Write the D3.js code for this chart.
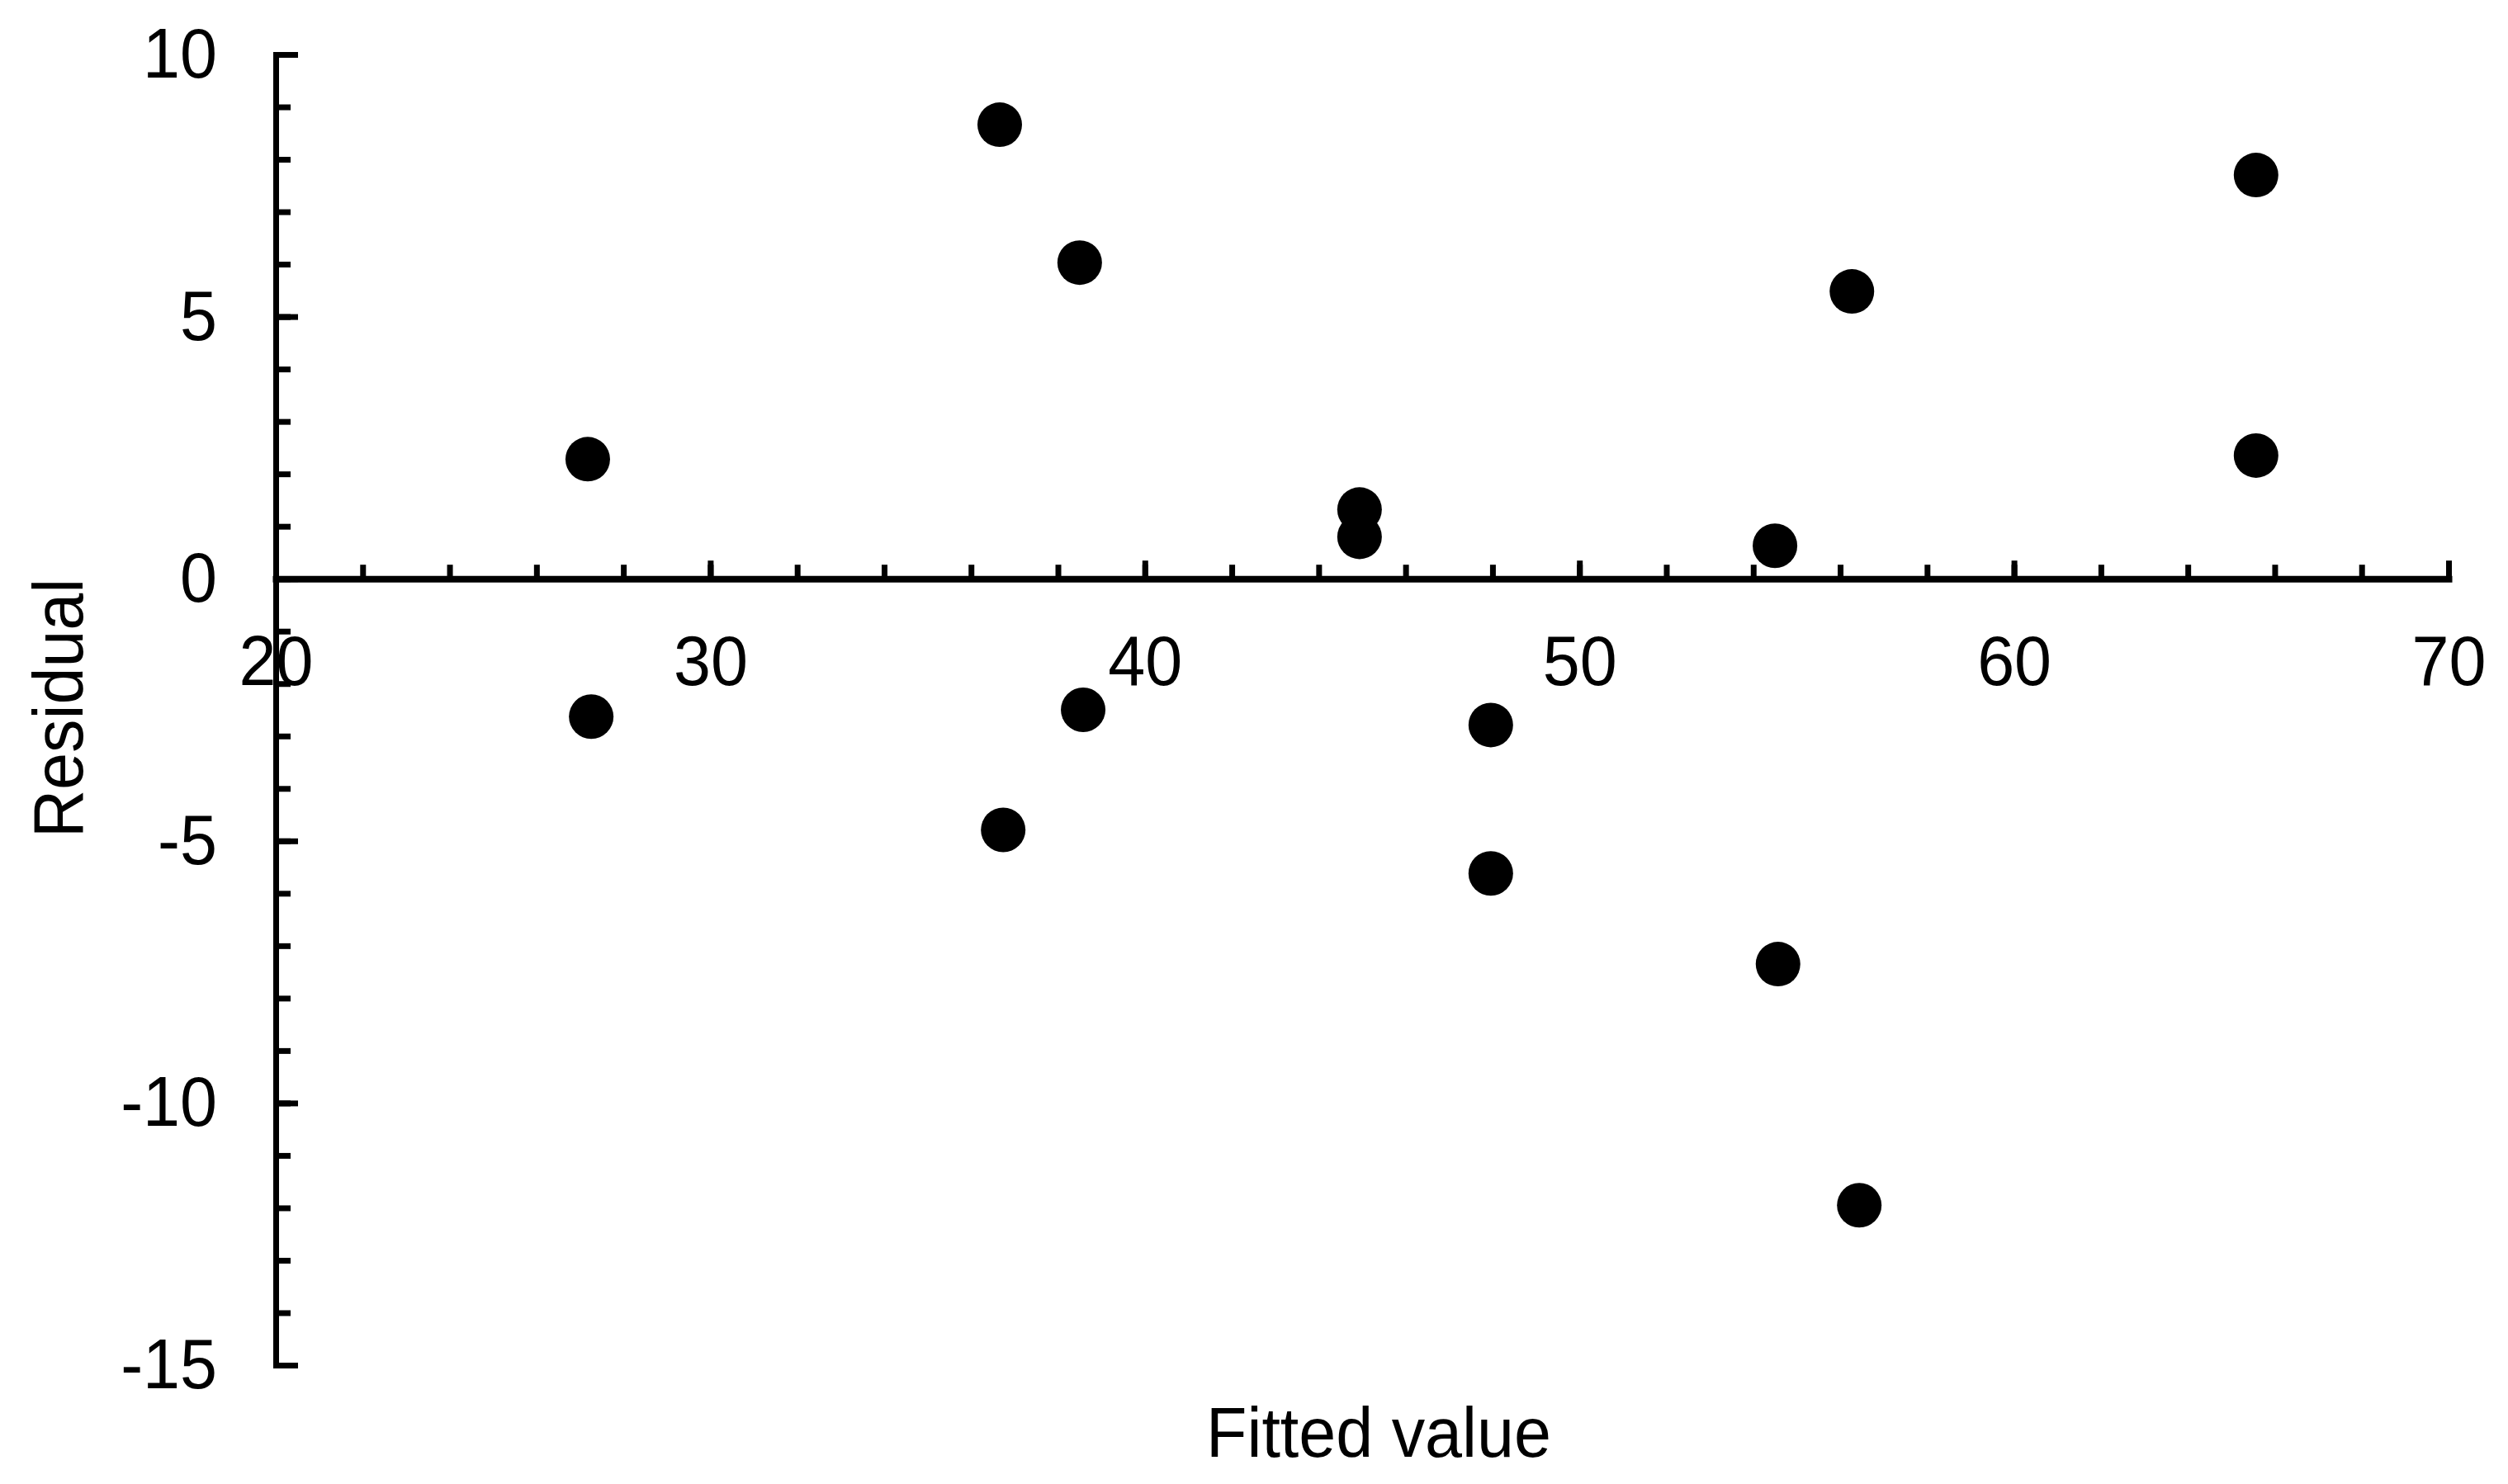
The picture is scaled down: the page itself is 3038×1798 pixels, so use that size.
<!DOCTYPE html>
<html>
<head>
<meta charset="utf-8">
<script src="https://cdn.jsdelivr.net/npm/d3@7"></script>
<style>
  html, body { margin: 0; padding: 0; background: #ffffff; }
  svg { display: block; }
</style>
</head>
<body>
<svg id="chart" width="3038" height="1798"></svg>
<script>
// ---- Data ----
const fittedValues = [27.18, 27.26, 36.66, 36.74, 38.50, 38.58, 44.94, 44.94,
                      47.96, 47.96, 54.50, 54.57, 56.27, 56.44, 65.57, 65.57];
const residuals    = [2.28, -2.63, 8.66, -4.79, 6.03, -2.50, 1.32, 0.80,
                      -2.79, -5.62, 0.63, -7.35, 5.48, -11.95, 7.70, 2.35];
const xMajorTicks = [20, 30, 40, 50, 60, 70];
const xMinorTicks = d3.range(20, 71, 2);
const yMajorTicks = [10, 5, 0, -5, -10, -15];
const yMinorTicks = d3.range(-15, 11, 1);
const xTitle = "Fitted value";
const yTitle = "Residual";

// ---- Layout ----
const W = 3038, H = 1798;
const plotLeft = 334, plotRight = 2966, plotTop = 66, plotBottom = 1654;
const FONT = "'Liberation Sans', Arial, Helvetica, sans-serif";
const FS = 86;
const SQUEEZE = 0.94;

const svg = d3.select("#chart");
svg.append("rect").attr("width", W).attr("height", H).attr("fill", "#fff");

const x = d3.scaleLinear().domain([20, 70]).range([plotLeft, plotRight]);
const y = d3.scaleLinear().domain([-15, 10]).range([plotBottom, plotTop]);
const yZero = y(0);

function squeeze(sel) {
  sel.each(function () {
    const len = this.getComputedTextLength();
    d3.select(this).attr("textLength", len * SQUEEZE).attr("lengthAdjust", "spacingAndGlyphs");
  });
}

// ---- X axis (ticks upward, labels below) ----
const gxMinor = svg.append("g").attr("transform", `translate(0,${yZero})`)
  .call(d3.axisBottom(x).tickValues(xMinorTicks).tickSizeInner(-17).tickSizeOuter(0).tickFormat(""));
gxMinor.select(".domain").remove();
gxMinor.selectAll(".tick line").attr("stroke", "#000").attr("stroke-width", 7);

const gxMajor = svg.append("g").attr("transform", `translate(0,${yZero})`)
  .call(d3.axisBottom(x).tickValues(xMajorTicks).tickSizeInner(-22).tickSizeOuter(0)
        .tickPadding(68).tickFormat(d3.format("d")));
gxMajor.select(".domain").attr("stroke", "#000").attr("stroke-width", 8).attr("stroke-linecap", "square");
gxMajor.selectAll(".tick line").attr("stroke", "#000").attr("stroke-width", 7);
gxMajor.selectAll(".tick text")
  .attr("font-family", FONT).attr("font-size", FS).attr("fill", "#000")
  .call(squeeze);

// ---- Y axis (ticks to the right, labels on the left) ----
const gyMinor = svg.append("g").attr("transform", `translate(${plotLeft},0)`)
  .call(d3.axisLeft(y).tickValues(yMinorTicks).tickSizeInner(-18).tickSizeOuter(0).tickFormat(""));
gyMinor.select(".domain").remove();
gyMinor.selectAll(".tick line").attr("stroke", "#000").attr("stroke-width", 7);

const gyMajor = svg.append("g").attr("transform", `translate(${plotLeft},0)`)
  .call(d3.axisLeft(y).tickValues(yMajorTicks).tickSizeInner(-27).tickSizeOuter(0)
        .tickPadding(71).tickFormat(d3.format("d")));
gyMajor.select(".domain").attr("stroke", "#000").attr("stroke-width", 7).attr("stroke-linecap", "square");
gyMajor.selectAll(".tick line").attr("stroke", "#000").attr("stroke-width", 7);
gyMajor.selectAll(".tick text")
  .attr("font-family", FONT).attr("font-size", FS).attr("fill", "#000")
  .text(d => d < 0 ? "-" + Math.abs(d) : String(d))
  .call(squeeze);

// ---- Points ----
svg.append("g").selectAll("circle")
  .data(fittedValues.map((v, i) => ({ fx: v, r: residuals[i] })))
  .join("circle")
  .attr("cx", d => x(d.fx))
  .attr("cy", d => y(d.r))
  .attr("r", 27)
  .attr("fill", "#000");

// ---- Axis titles ----
svg.append("text")
  .attr("x", 1670).attr("y", 1765)
  .attr("text-anchor", "middle")
  .attr("font-family", FONT).attr("font-size", FS).attr("fill", "#000")
  .text(xTitle).call(squeeze);

svg.append("text")
  .attr("transform", "translate(100,858) rotate(-90)")
  .attr("text-anchor", "middle")
  .attr("font-family", FONT).attr("font-size", FS).attr("fill", "#000")
  .text(yTitle).call(squeeze);
</script>
</body>
</html>
